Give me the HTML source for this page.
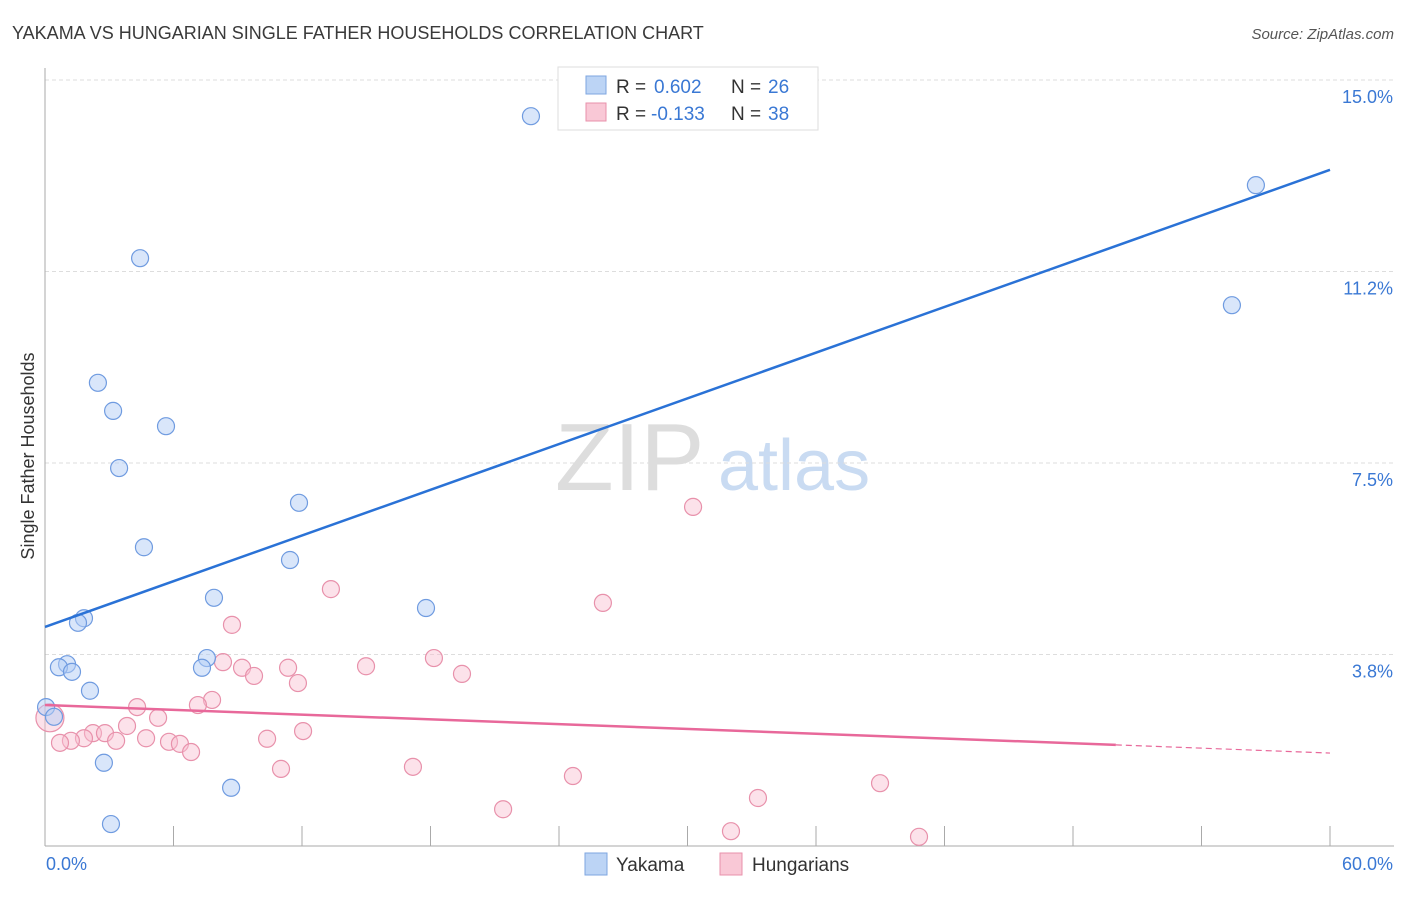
<!DOCTYPE html>
<html><head><meta charset="utf-8"><style>
body{margin:0;background:#fff;font-family:"Liberation Sans",sans-serif}
svg text{font-family:"Liberation Sans",sans-serif}
</style></head><body>
<svg id="c" width="1406" height="892" xmlns="http://www.w3.org/2000/svg">
<text x="12" y="39" font-size="18" fill="#3a3a3a">YAKAMA VS HUNGARIAN SINGLE FATHER HOUSEHOLDS CORRELATION CHART</text>
<text x="1394" y="39" font-size="15" fill="#555" text-anchor="end" font-style="italic">Source: ZipAtlas.com</text>
<text x="555" y="490" font-size="96" fill="#ddd" font-family="Liberation Serif">ZIP</text>
<text x="718" y="490" font-size="72" fill="#c9dbf2">atlas</text>
<text transform="translate(34,456) rotate(-90)" font-size="18" fill="#333" text-anchor="middle">Single Father Households</text>
<g id="grid"></g><g id="pts"></g><g id="lines"></g>
<g>
<rect x="558" y="67" width="260" height="63" fill="#fff" stroke="#ddd"/>
<rect x="586" y="76" width="20" height="18" fill="#bcd4f5" stroke="#7ea6e0"/>
<rect x="586" y="103" width="20" height="18" fill="#f9c8d6" stroke="#e891ab"/>
<text x="616" y="93" font-size="19" fill="#333">R =</text>
<text x="654" y="93" font-size="19" fill="#3a78d4">0.602</text>
<text x="731" y="93" font-size="19" fill="#333">N =</text>
<text x="768" y="93" font-size="19" fill="#3a78d4">26</text>
<text x="616" y="120" font-size="19" fill="#333">R =</text>
<text x="651" y="120" font-size="19" fill="#3a78d4">-0.133</text>
<text x="731" y="120" font-size="19" fill="#333">N =</text>
<text x="768" y="120" font-size="19" fill="#3a78d4">38</text>
</g>
<g>
<rect x="585" y="853" width="22" height="22" fill="#bcd4f5" stroke="#7ea6e0"/>
<text x="616" y="871" font-size="19" fill="#333">Yakama</text>
<rect x="720" y="853" width="22" height="22" fill="#f9c8d6" stroke="#e891ab"/>
<text x="752" y="871" font-size="19" fill="#333">Hungarians</text>
</g>
</svg>
<script>
const yTicks=[3.75,7.5,11.25,15];
const yTickLabels=["3.8%","7.5%","11.2%","15.0%"];
const xTicks=[0,6,12,18,24,30,36,42,48,54,60];
const blueX=[22.69,56.54,4.44,55.42,2.47,3.18,5.65,3.46,11.86,4.62,11.44,7.89,17.79,1.82,1.54,7.56,1.03,0.65,1.26,7.33,2.10,0.05,0.42,2.75,8.69,3.08];
const blueY=[14.29,12.94,11.51,10.59,9.07,8.52,8.22,7.40,6.72,5.85,5.60,4.86,4.66,4.46,4.37,3.68,3.56,3.50,3.41,3.49,3.04,2.72,2.53,1.63,1.14,0.43];
const pinkX=[30.26,13.35,26.05,8.73,8.31,18.16,11.35,14.99,9.20,9.76,19.47,11.81,7.80,7.14,4.30,5.28,0.23,3.83,12.05,2.24,2.80,1.82,3.32,4.72,1.21,0.70,5.79,6.30,10.37,6.82,11.02,17.18,24.65,38.99,33.29,21.39,32.03,40.81];
const pinkY=[6.64,5.03,4.76,4.33,3.60,3.68,3.49,3.52,3.49,3.33,3.37,3.19,2.86,2.76,2.72,2.51,2.51,2.35,2.25,2.21,2.21,2.11,2.06,2.11,2.06,2.02,2.04,2.00,2.10,1.84,1.51,1.55,1.37,1.23,0.94,0.72,0.29,0.18];
const blueLine=[4.29,13.24];
const pinkLine=[2.76,1.98,1.82];
const NS="http://www.w3.org/2000/svg";
const X=v=>45+v*1285/60, Y=v=>846-v*51.07;
function mk(p,t,a){const e=document.createElementNS(NS,t);for(const k in a)e.setAttribute(k,a[k]);p.appendChild(e);return e;}
const g=document.getElementById('grid');
yTicks.forEach((t,i)=>{
 const l=mk(g,'line',{x1:45,x2:1394,y1:Y(t),y2:Y(t),stroke:'#ddd','stroke-dasharray':'4,3'});
 
 
 const tx=mk(g,'text',{x:1393,y:Y(t)+23,'font-size':18,fill:'#3a78d4','text-anchor':'end'});
 tx.textContent=yTickLabels[i];
 
 
});
const topLine=mk(g,'line',{x1:45,x2:1394,y1:80,y2:80,stroke:'#ddd','stroke-dasharray':'4,3'});


const ax=mk(g,'line',{x1:45,x2:1394,y1:846,y2:846,stroke:'#aaa'});


const ay=mk(g,'line',{x1:45,x2:45,y1:68,y2:846,stroke:'#aaa'});


xTicks.forEach(t=>{const l=mk(g,'line',{x1:X(t),x2:X(t),y1:826,y2:846,stroke:'#aaa'});
 
 });
[["0.0%",46,'start'],["60.0%",1393,'end']].forEach(a=>{const t=mk(g,'text',{x:a[1],y:870,'font-size':18,fill:'#3a78d4','text-anchor':a[2]});t.textContent=a[0];
 
 });
const P=document.getElementById('pts');
pinkX.forEach((v,i)=>{const c=mk(P,'circle',{cx:X(v),cy:Y(pinkY[i]),r:i==16?14:8.5,fill:'rgba(248,190,208,0.45)',stroke:'#e891ab','stroke-width':1.2});
 
 });
blueX.forEach((v,i)=>{const c=mk(P,'circle',{cx:X(v),cy:Y(blueY[i]),r:8.5,fill:'rgba(180,205,245,0.5)',stroke:'#6f9be0','stroke-width':1.2});
 
 });
const L=document.getElementById('lines');
const b=mk(L,'line',{x1:X(0),y1:Y(blueLine[0]),x2:X(60),y2:Y(blueLine[1]),stroke:'#2a72d6','stroke-width':2.5});


const p=mk(L,'line',{x1:X(0),y1:Y(pinkLine[0]),x2:X(50),y2:Y(pinkLine[1]),stroke:'#e8689a','stroke-width':2.5});


const pd=mk(L,'line',{x1:X(50),y1:Y(pinkLine[1]),x2:X(60),y2:Y(pinkLine[2]),stroke:'#e8689a','stroke-width':1.2,'stroke-dasharray':'6,4'});


</script>
</body></html>
